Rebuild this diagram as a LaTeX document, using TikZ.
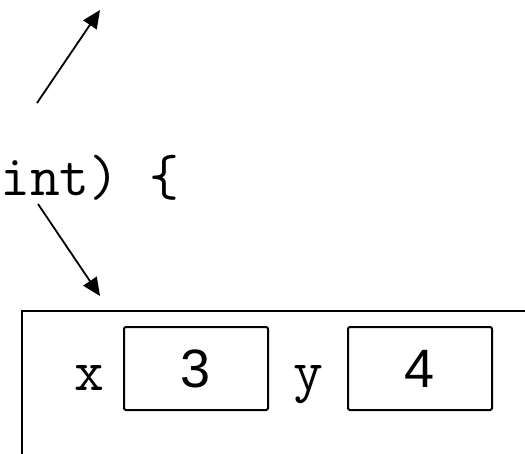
\documentclass[tikz,border=0pt]{standalone}
\usepackage{fontspec}
\setsansfont{Liberation Sans}
\usetikzlibrary{positioning,arrows.meta}

\begin{document}
\begin{tikzpicture}[
  x=1pt, y=-1pt,
  code/.style={font=\ttfamily\fontsize{58}{64}\selectfont, inner sep=0pt},
  cell/.style={rectangle, rounded corners=2pt, draw=black, line width=2pt,
               minimum width=144pt, minimum height=83pt, inner sep=0pt,
               font=\sffamily\fontsize{54}{60}\selectfont},
  ptr/.style={-{Triangle[length=18pt,width=16pt]}, draw=black, line width=1.8pt}
]
\useasboundingbox (0,0) rectangle (525,453);
\clip (0,0) rectangle (525,453);

% header text and outer frame
\node[code, anchor=base west] (sig) at (0,195) {int) \{};
\draw[line width=2pt] (540,311) -- (22,311) -- (22,470);

% the two fields
\node[cell] (xbox) at (196,368.5) {3};
\node[cell] (ybox) at (420,368.5) {4};
\node[code, anchor=base east] (xlab) at ([xshift=-18pt]xbox.west |- 0,390) {x};
\node[code, anchor=base east] (ylab) at ([xshift=-23pt]ybox.west |- 0,390) {y};

% arrows
\coordinate (up) at (100,10);
\coordinate (upfrom) at (37,103);
\coordinate (down) at (100,296);
\draw[ptr] (upfrom) -- (up);
\draw[ptr] ([xshift=38pt,yshift=-9pt]sig.base west) -- (down);
\end{tikzpicture}
\end{document}
